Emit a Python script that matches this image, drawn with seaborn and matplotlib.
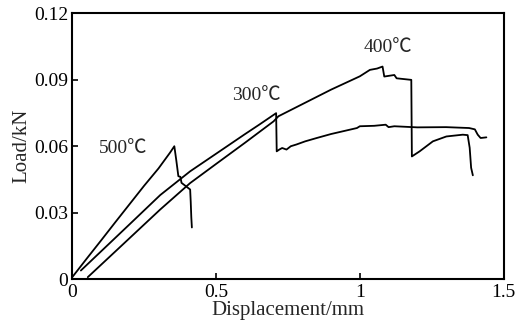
import pandas as pd
import seaborn as sns
import matplotlib.pyplot as plt

# Curvas carga x deslocamento
x_500 = [0, 0.05, 0.10, 0.15, 0.20, 0.25, 0.30, 0.34, 0.355, 0.362, 0.369, 0.376,
         0.380, 0.395, 0.410, 0.412, 0.414, 0.416]
y_500 = [0.001, 0.0093, 0.0175, 0.0258, 0.034, 0.0422, 0.050, 0.0571, 0.0600, 0.0535,
         0.0465, 0.0462, 0.0435, 0.0420, 0.0405, 0.035, 0.028, 0.0234]

x_300 = [0.03, 0.10, 0.20, 0.306, 0.41, 0.50, 0.60, 0.65, 0.709, 0.711, 0.72, 0.73,
         0.745, 0.76, 0.78, 0.81, 0.85, 0.90, 0.95, 0.99, 1.00, 1.05, 1.09, 1.10,
         1.12, 1.20, 1.30, 1.38, 1.40, 1.41, 1.42, 1.44]
y_300 = [0.004, 0.0126, 0.0249, 0.038, 0.0487, 0.0566, 0.0654, 0.0697, 0.0749, 0.0577,
         0.0585, 0.0592, 0.0585, 0.0600, 0.0608, 0.0622, 0.0637, 0.0655, 0.0670, 0.0682,
         0.0690, 0.0692, 0.0697, 0.0686, 0.0690, 0.0685, 0.0686, 0.0682, 0.0676, 0.0652,
         0.0637, 0.0640]

x_400 = [0.054, 0.15, 0.306, 0.41, 0.50, 0.60, 0.70, 0.717, 0.81, 0.90, 0.95, 1.00,
         1.035, 1.06, 1.079, 1.085, 1.12, 1.128, 1.179, 1.181, 1.208, 1.254, 1.301,
         1.358, 1.375, 1.382, 1.387, 1.393]
y_400 = [0.001, 0.0126, 0.0315, 0.0434, 0.052, 0.0615, 0.0712, 0.0735, 0.0796, 0.0855,
         0.0885, 0.0915, 0.0944, 0.0950, 0.0959, 0.0914, 0.0921, 0.0906, 0.0899, 0.0554,
         0.0577, 0.0622, 0.0644, 0.0652, 0.0650, 0.0593, 0.0503, 0.0469]

rotulos = ['500℃', '300℃', '400℃']
rotulo_x = [0.178, 0.639, 1.099]
rotulo_y = [0.0592, 0.0827, 0.1045]

x_ticks = [0, 0.5, 1, 1.5]
x_tick_labels = ['0', '0.5', '1', '1.5']
y_ticks = [0, 0.03, 0.06, 0.09, 0.12]
y_tick_labels = ['0', '0.03', '0.06', '0.09', '0.12']

sns.set_style('white')
plt.rcParams['font.family'] = ['Liberation Serif', 'Noto Sans CJK SC', 'DejaVu Sans']

fig = plt.figure(figsize=(5.16, 3.35), dpi=100)
ax = fig.add_axes([0.140, 0.166, 0.836, 0.795])

for xs, ys in [(x_500, y_500), (x_300, y_300), (x_400, y_400)]:
    df = pd.DataFrame({'x': xs, 'y': ys})
    sns.lineplot(data=df, x='x', y='y', sort=False, estimator=None,
                 color='black', linewidth=1.3, ax=ax)

for txt, tx, ty in zip(rotulos, rotulo_x, rotulo_y):
    ax.text(tx, ty, txt, fontsize=14, ha='center', va='center',
            family=['Liberation Serif', 'Noto Sans CJK SC'])

ax.set_xlim(0, 1.5)
ax.set_ylim(0, 0.12)
ax.set_xticks(x_ticks)
ax.set_xticklabels(x_tick_labels)
ax.set_yticks(y_ticks)
ax.set_yticklabels(y_tick_labels)
ax.tick_params(direction='in', length=4, width=1.2, labelsize=14, colors='black',
               left=True, bottom=True, pad=3)
for s in ax.spines.values():
    s.set_color('black')
    s.set_linewidth(1.5)

ax.set_xlabel('Displacement/mm', fontsize=15, labelpad=0)
ax.set_ylabel('Load/kN', fontsize=15, labelpad=2)

fig.savefig('out.png', dpi=100)
